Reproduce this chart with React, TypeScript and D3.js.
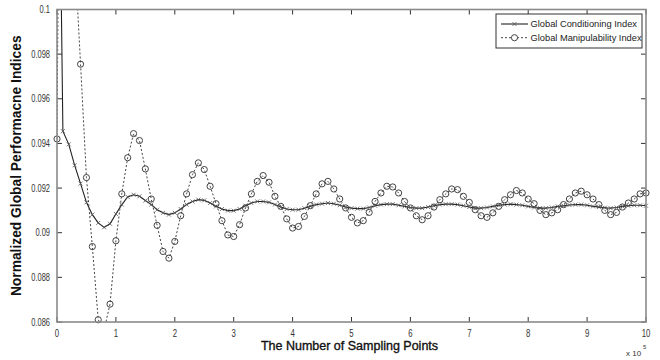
import React from "react";
import * as d3 from "d3";

// Sampling points (x 10^5)
const samplePoints: number[] = d3.range(0, 101).map((i) => i / 10);

const conditioningIndex: number[] = [
  0.116, 0.09455, 0.09396, 0.09302, 0.0922, 0.09136, 0.09081, 0.09044, 0.09024, 0.0904,
  0.09084, 0.09126, 0.0916, 0.0917, 0.09163, 0.09144, 0.09126, 0.09103, 0.09089, 0.09081,
  0.09089, 0.09106, 0.09126, 0.0914, 0.09148, 0.09145, 0.09133, 0.09118, 0.09106, 0.09099,
  0.09099, 0.09106, 0.09121, 0.09133, 0.0914, 0.0914, 0.09136, 0.09126, 0.09115, 0.09106,
  0.09103, 0.09103, 0.0911, 0.09118, 0.09126, 0.0913, 0.09133, 0.0913, 0.09123, 0.09115,
  0.0911, 0.09108, 0.09108, 0.09113, 0.09121, 0.09126, 0.09128, 0.09128, 0.09123, 0.09118,
  0.09113, 0.0911, 0.0911, 0.09115, 0.09121, 0.09126, 0.09128, 0.09128, 0.09126, 0.09121,
  0.09115, 0.0911, 0.0911, 0.09113, 0.09118, 0.09123, 0.09126, 0.09128, 0.09126, 0.09123,
  0.09118, 0.09113, 0.0911, 0.0911, 0.09113, 0.09118, 0.09121, 0.09124, 0.09126, 0.09126,
  0.09123, 0.09118, 0.09115, 0.09112, 0.0911, 0.09113, 0.09118, 0.09121, 0.09123, 0.09123,
  0.09121,
];

const manipulabilityIndex: number[] = [
  0.0942, 0.13, 0.12, 0.1025, 0.09755, 0.09247, 0.08938, 0.0861, 0.08565, 0.0868,
  0.08964, 0.09174, 0.09336, 0.09444, 0.09413, 0.09286, 0.09151, 0.09033, 0.08916, 0.08886,
  0.08961, 0.09076, 0.09174, 0.0926, 0.09313, 0.09283, 0.09208, 0.0913, 0.09054, 0.0899,
  0.08983, 0.09036, 0.09111, 0.09174, 0.0923, 0.09256, 0.09226, 0.09163, 0.09118, 0.09062,
  0.09021, 0.09028, 0.09073, 0.09121, 0.09174, 0.09219, 0.0923, 0.09196, 0.09151, 0.09111,
  0.09069, 0.09044, 0.09054, 0.09091, 0.0914, 0.09178, 0.09208, 0.09205, 0.09178, 0.0914,
  0.09111, 0.09076, 0.09058, 0.09076, 0.09115, 0.09148, 0.09174, 0.09196, 0.09193, 0.09163,
  0.09136, 0.09103, 0.09076, 0.09069, 0.09089, 0.09118, 0.09148, 0.0917, 0.09189, 0.09178,
  0.09151, 0.0913, 0.091, 0.09081, 0.09089, 0.09103, 0.09126, 0.09151, 0.09178, 0.09186,
  0.0917, 0.09151, 0.09126, 0.091, 0.09081, 0.09091, 0.09115, 0.09133, 0.09151, 0.09174,
  0.09178,
];

const xTicks: number[] = [0, 1, 2, 3, 4, 5, 6, 7, 8, 9, 10];
const yTicks: number[] = [0.086, 0.088, 0.09, 0.092, 0.094, 0.096, 0.098, 0.1];
const yTickLabels: string[] = ["0.086", "0.088", "0.09", "0.092", "0.094", "0.096", "0.098", "0.1"];
const seriesNames: string[] = ["Global Conditioning Index", "Global Manipulability Index"];

const W = 660;
const H = 360;
const L = 57;
const R = 646;
const T = 9.5;
const B = 322;

export default function App() {
  const x = d3.scaleLinear().domain([0, 10]).range([L, R]);
  const y = d3.scaleLinear().domain([0.086, 0.1]).range([B, T]);

  const line = d3
    .line<number>()
    .x((_, i) => x(samplePoints[i]))
    .y((d) => y(d));

  const inRange = (v: number) => v >= 0.0859 && v <= 0.1001;
  const axisColor = "#8a8a8a";
  const tickColor = "#333";
  const labelFont = "'Liberation Sans', Arial, sans-serif";

  return (
    <svg
      width={W}
      height={H}
      style={{ position: "absolute", left: 0, top: 0, background: "#fff" }}
      fontFamily={labelFont}
    >
      <defs>
        <clipPath id="plotClip">
          <rect x={L} y={T} width={R - L} height={B - T} />
        </clipPath>
      </defs>
      <rect x={0} y={0} width={W} height={H} fill="#fff" />

      {/* ticks */}
      {xTicks.map((t) => (
        <g key={"xt" + t}>
          <line x1={x(t)} x2={x(t)} y1={B} y2={B - 5} stroke={tickColor} strokeWidth={1} />
          <line x1={x(t)} x2={x(t)} y1={T} y2={T + 5} stroke={tickColor} strokeWidth={1} />
          <text
            transform={`translate(${x(t)},${B + 14.5}) scale(0.78,1)`}
            textAnchor="middle"
            fontSize={10}
            fill="#333"
          >
            {t}
          </text>
        </g>
      ))}
      {yTicks.map((t, i) => (
        <g key={"yt" + t}>
          <line x1={L} x2={L + 5} y1={y(t)} y2={y(t)} stroke={tickColor} strokeWidth={1} />
          <line x1={R} x2={R - 5} y1={y(t)} y2={y(t)} stroke={tickColor} strokeWidth={1} />
          <text
            transform={`translate(${L - 7},${y(t) + 3.6}) scale(0.75,1)`}
            textAnchor="end"
            fontSize={10}
            fill="#333"
          >
            {yTickLabels[i]}
          </text>
        </g>
      ))}

      {/* series lines */}
      <g clipPath="url(#plotClip)">
        <path
          d={line(conditioningIndex) || ""}
          fill="none"
          stroke="#222"
          strokeWidth={1.1}
        />
        <path
          d={line(manipulabilityIndex) || ""}
          fill="none"
          stroke="#444"
          strokeWidth={1}
          strokeDasharray="2,2"
        />
      </g>

      {/* markers */}
      {conditioningIndex.map((v, i) =>
        inRange(v) ? (
          <path
            key={"cx" + i}
            d={`M${x(samplePoints[i]) - 2},${y(v) - 2}L${x(samplePoints[i]) + 2},${y(v) + 2}M${x(samplePoints[i]) - 2},${y(v) + 2}L${x(samplePoints[i]) + 2},${y(v) - 2}`}
            stroke="#555"
            strokeWidth={0.8}
          />
        ) : null
      )}
      {manipulabilityIndex.map((v, i) =>
        inRange(v) ? (
          <circle
            key={"mc" + i}
            cx={x(samplePoints[i])}
            cy={y(v)}
            r={3.1}
            fill="none"
            stroke="#444"
            strokeWidth={1}
          />
        ) : null
      )}

      {/* axes box */}
      <rect x={L} y={T} width={R - L} height={B - T} fill="none" stroke={axisColor} strokeWidth={1.6} />

      {/* legend */}
      <g>
        <rect x={496} y={14} width={146} height={34} fill="#fff" stroke="#333" strokeWidth={1} />
        <line x1={501} x2={528} y1={24} y2={24} stroke="#222" strokeWidth={1.1} />
        <path d="M512.5,22L516.5,26M512.5,26L516.5,22" stroke="#555" strokeWidth={0.8} />
        <text x={530.5} y={27.3} fontSize={9.3} fill="#222">
          {seriesNames[0]}
        </text>
        <line x1={501} x2={528} y1={37.7} y2={37.7} stroke="#444" strokeWidth={1} strokeDasharray="2,2" />
        <circle cx={514.5} cy={37.7} r={3.1} fill="#fff" stroke="#444" strokeWidth={1} />
        <text x={530.5} y={41} fontSize={9.3} fill="#222">
          {seriesNames[1]}
        </text>
      </g>

      {/* axis labels */}
      <text
        x={(L + R) / 2 - 2}
        y={350}
        textAnchor="middle"
        fontSize={12.5}
        fill="#111"
        stroke="#111"
        strokeWidth={0.35}
      >
        The Number of Sampling Points
      </text>
      <text
        transform={`translate(21,${(T + B) / 2}) rotate(-90)`}
        textAnchor="middle"
        fontSize={13.8}
        fontWeight="bold"
        fill="#111"
      >
        Normalized Global Performacne Indices
      </text>
      <text x={626} y={356} fontSize={8} fill="#333">
        x 10
      </text>
      <text x={643} y={349} fontSize={6} fill="#333">
        5
      </text>
    </svg>
  );
}
